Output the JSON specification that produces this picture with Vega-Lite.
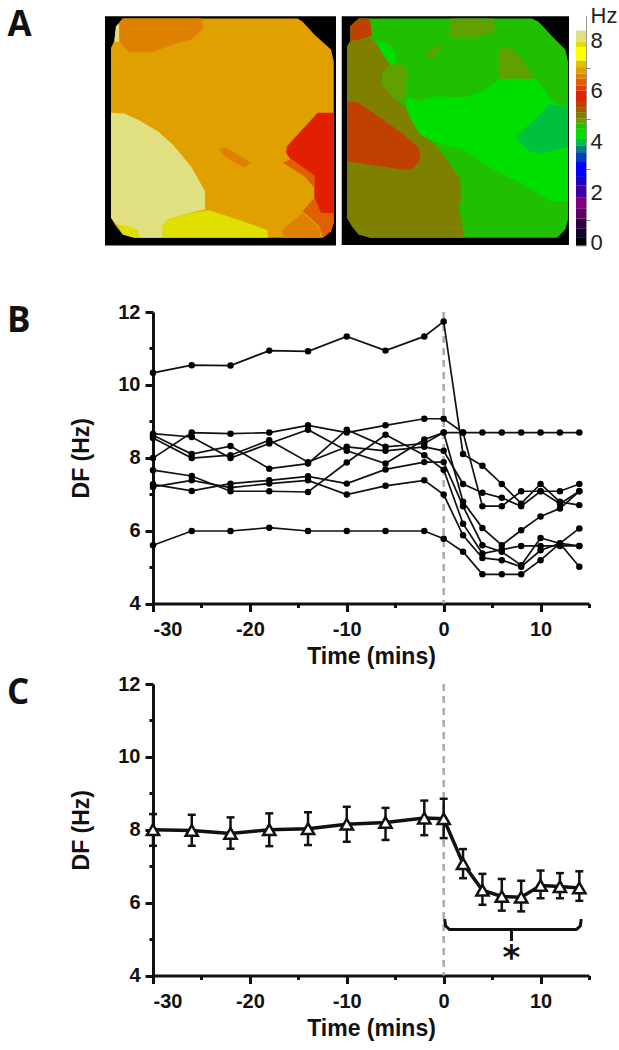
{
"$schema":"https://vega.github.io/schema/vega-lite/v6.json",
"padding":{"left":6,"top":3,"right":0,"bottom":0},
"background":"white",
"config":{"view":{"stroke":null},"font":"Liberation Sans"},
"datasets":{
"series":[
{"s":"a","t":-30,"hz":10.33},{"s":"a","t":-26,"hz":10.54},{"s":"a","t":-22,"hz":10.53},{"s":"a","t":-18,"hz":10.94},{"s":"a","t":-14,"hz":10.92},{"s":"a","t":-10,"hz":11.33},{"s":"a","t":-6,"hz":10.94},{"s":"a","t":-2,"hz":11.33},{"s":"a","t":0,"hz":11.74},{"s":"a","t":2,"hz":8.10},{"s":"a","t":4,"hz":7.78},{"s":"a","t":6,"hz":7.28},{"s":"a","t":8,"hz":6.74},{"s":"a","t":10,"hz":7.28},{"s":"a","t":12,"hz":6.79},{"s":"a","t":14,"hz":6.70},
{"s":"b","t":-30,"hz":5.60},{"s":"b","t":-26,"hz":5.99},{"s":"b","t":-22,"hz":5.99},{"s":"b","t":-18,"hz":6.08},{"s":"b","t":-14,"hz":5.99},{"s":"b","t":-10,"hz":5.99},{"s":"b","t":-6,"hz":5.99},{"s":"b","t":-2,"hz":5.99},{"s":"b","t":0,"hz":5.78},{"s":"b","t":2,"hz":5.42},{"s":"b","t":4,"hz":4.80},{"s":"b","t":6,"hz":4.80},{"s":"b","t":8,"hz":4.80},{"s":"b","t":10,"hz":5.19},{"s":"b","t":12,"hz":5.65},{"s":"b","t":14,"hz":6.06},
{"s":"c","t":-30,"hz":7.99},{"s":"c","t":-26,"hz":8.69},{"s":"c","t":-22,"hz":8.66},{"s":"c","t":-18,"hz":8.69},{"s":"c","t":-14,"hz":8.89},{"s":"c","t":-10,"hz":8.69},{"s":"c","t":-6,"hz":8.89},{"s":"c","t":-2,"hz":9.07},{"s":"c","t":0,"hz":9.07},{"s":"c","t":2,"hz":8.69},{"s":"c","t":4,"hz":6.67},{"s":"c","t":6,"hz":6.67},{"s":"c","t":8,"hz":7.08},{"s":"c","t":10,"hz":7.08},{"s":"c","t":12,"hz":7.08},{"s":"c","t":14,"hz":7.28},
{"s":"d","t":-30,"hz":8.66},{"s":"d","t":-26,"hz":8.57},{"s":"d","t":-22,"hz":7.99},{"s":"d","t":-18,"hz":8.39},{"s":"d","t":-14,"hz":8.77},{"s":"d","t":-10,"hz":8.19},{"s":"d","t":-6,"hz":7.84},{"s":"d","t":-2,"hz":8.50},{"s":"d","t":0,"hz":8.69},{"s":"d","t":2,"hz":8.69},{"s":"d","t":4,"hz":8.69},{"s":"d","t":6,"hz":8.69},{"s":"d","t":8,"hz":8.69},{"s":"d","t":10,"hz":8.69},{"s":"d","t":12,"hz":8.69},{"s":"d","t":14,"hz":8.69},
{"s":"e","t":-30,"hz":8.62},{"s":"e","t":-26,"hz":8.10},{"s":"e","t":-22,"hz":8.32},{"s":"e","t":-18,"hz":7.70},{"s":"e","t":-14,"hz":7.84},{"s":"e","t":-10,"hz":8.77},{"s":"e","t":-6,"hz":8.30},{"s":"e","t":-2,"hz":8.39},{"s":"e","t":0,"hz":8.69},{"s":"e","t":2,"hz":6.79},{"s":"e","t":4,"hz":6.07},{"s":"e","t":6,"hz":5.60},{"s":"e","t":8,"hz":6.01},{"s":"e","t":10,"hz":6.39},{"s":"e","t":12,"hz":6.61},{"s":"e","t":14,"hz":7.08},
{"s":"f","t":-30,"hz":8.54},{"s":"f","t":-26,"hz":7.99},{"s":"f","t":-22,"hz":8.07},{"s":"f","t":-18,"hz":8.48},{"s":"f","t":-14,"hz":7.88},{"s":"f","t":-10,"hz":8.30},{"s":"f","t":-6,"hz":8.19},{"s":"f","t":-2,"hz":8.30},{"s":"f","t":0,"hz":8.19},{"s":"f","t":2,"hz":7.28},{"s":"f","t":4,"hz":7.04},{"s":"f","t":6,"hz":6.90},{"s":"f","t":8,"hz":6.67},{"s":"f","t":10,"hz":7.08},{"s":"f","t":12,"hz":6.74},{"s":"f","t":14,"hz":7.08},
{"s":"g","t":-30,"hz":7.66},{"s":"g","t":-26,"hz":7.50},{"s":"g","t":-22,"hz":7.08},{"s":"g","t":-18,"hz":7.08},{"s":"g","t":-14,"hz":7.06},{"s":"g","t":-10,"hz":7.87},{"s":"g","t":-6,"hz":8.63},{"s":"g","t":-2,"hz":8.07},{"s":"g","t":0,"hz":7.67},{"s":"g","t":2,"hz":6.19},{"s":"g","t":4,"hz":5.37},{"s":"g","t":6,"hz":5.48},{"s":"g","t":8,"hz":5.58},{"s":"g","t":10,"hz":5.58},{"s":"g","t":12,"hz":5.58},{"s":"g","t":14,"hz":5.58},
{"s":"h","t":-30,"hz":7.27},{"s":"h","t":-26,"hz":7.09},{"s":"h","t":-22,"hz":7.29},{"s":"h","t":-18,"hz":7.38},{"s":"h","t":-14,"hz":7.49},{"s":"h","t":-10,"hz":7.29},{"s":"h","t":-6,"hz":7.68},{"s":"h","t":-2,"hz":7.88},{"s":"h","t":0,"hz":7.88},{"s":"h","t":2,"hz":6.67},{"s":"h","t":4,"hz":5.60},{"s":"h","t":6,"hz":5.42},{"s":"h","t":8,"hz":5.05},{"s":"h","t":10,"hz":5.80},{"s":"h","t":12,"hz":5.65},{"s":"h","t":14,"hz":5.01},
{"s":"i","t":-30,"hz":7.20},{"s":"i","t":-26,"hz":7.38},{"s":"i","t":-22,"hz":7.18},{"s":"i","t":-18,"hz":7.29},{"s":"i","t":-14,"hz":7.38},{"s":"i","t":-10,"hz":6.99},{"s":"i","t":-6,"hz":7.23},{"s":"i","t":-2,"hz":7.38},{"s":"i","t":0,"hz":6.99},{"s":"i","t":2,"hz":5.87},{"s":"i","t":4,"hz":5.25},{"s":"i","t":6,"hz":5.19},{"s":"i","t":8,"hz":5.01},{"s":"i","t":10,"hz":5.46},{"s":"i","t":12,"hz":5.65},{"s":"i","t":14,"hz":5.58}
],
"mean":[
{"t":-30,"hz":8.0,"lo":7.56,"hi":8.43},{"t":-26,"hz":7.98,"lo":7.56,"hi":8.41},{"t":-22,"hz":7.9,"lo":7.48,"hi":8.34},{"t":-18,"hz":8.0,"lo":7.55,"hi":8.45},{"t":-14,"hz":8.03,"lo":7.58,"hi":8.48},{"t":-10,"hz":8.15,"lo":7.67,"hi":8.63},{"t":-6,"hz":8.2,"lo":7.72,"hi":8.6},{"t":-2,"hz":8.32,"lo":7.85,"hi":8.8},{"t":0,"hz":8.3,"lo":7.77,"hi":8.85},{"t":2,"hz":7.07,"lo":6.67,"hi":7.47},{"t":4,"hz":6.34,"lo":5.94,"hi":6.79},{"t":6,"hz":6.17,"lo":5.78,"hi":6.65},{"t":8,"hz":6.15,"lo":5.76,"hi":6.6},{"t":10,"hz":6.47,"lo":6.12,"hi":6.88},{"t":12,"hz":6.44,"lo":6.12,"hi":6.81},{"t":14,"hz":6.4,"lo":6.05,"hi":6.86}
],
"bracket":[
{"i":1,"t":0.1,"hz":5.55},{"i":2,"t":0.2,"hz":5.36},{"i":3,"t":0.6,"hz":5.26},{"i":4,"t":7,"hz":5.26},{"i":5,"t":7,"hz":4.95},{"i":6,"t":7,"hz":5.26},{"i":7,"t":13.7,"hz":5.26},{"i":8,"t":14.1,"hz":5.36},{"i":9,"t":14.2,"hz":5.55}
],
"bands":[
{"lo":-0.11,"hi":0.22},{"lo":0.22,"hi":0.55},{"lo":0.55,"hi":0.95},{"lo":0.95,"hi":1.34},{"lo":1.34,"hi":1.8},{"lo":1.8,"hi":2.27},{"lo":2.27,"hi":2.6},{"lo":2.6,"hi":3.19},{"lo":3.19,"hi":3.58},{"lo":3.58,"hi":3.85},{"lo":3.85,"hi":4.1},{"lo":4.1,"hi":4.5},{"lo":4.5,"hi":4.7},{"lo":4.7,"hi":4.9},{"lo":4.9,"hi":5.16},{"lo":5.16,"hi":5.36},{"lo":5.36,"hi":5.56},{"lo":5.56,"hi":6.02},{"lo":6.02,"hi":6.22},{"lo":6.22,"hi":6.48},{"lo":6.48,"hi":6.68},{"lo":6.68,"hi":6.94},{"lo":6.94,"hi":7.2},{"lo":7.2,"hi":7.73},{"lo":7.73,"hi":7.93},{"lo":7.93,"hi":8.39},{"lo":8.39,"hi":8.96}
],
"regions":[
{"type":"Feature","properties":{"hz":0,"name":"bgL"},"geometry":{"type":"Polygon","coordinates":[[[104,16.7],[335,16.7],[335,246],[104,246],[104,16.7]]]}},
{"type":"Feature","properties":{"hz":0,"name":"bgR"},"geometry":{"type":"Polygon","coordinates":[[[340.7,16.7],[568,16.7],[568,245.5],[340.7,245.5],[340.7,16.7]]]}},
{"type":"Feature","properties":{"hz":6.8,"name":"L main"},"geometry":{"type":"Polygon","coordinates":[[[121.7,19],[296.7,19],[301.7,22.3],[313.3,35],[330,50],[332.7,61.7],[332.7,223.3],[330,231.7],[321.7,238.3],[133.3,238.3],[121.7,235],[115,226.7],[110,218.3],[110,48.3],[113.3,41.7],[115,26.7],[121.7,19]]]}},
{"type":"Feature","properties":{"hz":8.2,"name":"L sliver"},"geometry":{"type":"Polygon","coordinates":[[[115,26.7],[118.3,24],[118.3,42.3],[113.3,42.3],[115,26.7]]]}},
{"type":"Feature","properties":{"hz":6.6,"name":"L top"},"geometry":{"type":"Polygon","coordinates":[[[121.7,19],[201.7,19],[201.7,30],[190,40],[171.7,45],[151.7,52.7],[128.3,52.7],[118.3,42.3],[118.3,24],[121.7,19]]]}},
{"type":"Feature","properties":{"hz":8.2,"name":"L cream"},"geometry":{"type":"Polygon","coordinates":[[[110,113.3],[123.3,114],[136.7,120],[156.7,131.7],[171.7,145],[190,166.7],[204,191.7],[204,210],[186.7,214],[166.7,220],[161.7,226.7],[161.7,238.3],[138.3,238.3],[136.7,231.7],[126.7,226.7],[115,225],[110,218.3],[110,113.3]]]}},
{"type":"Feature","properties":{"hz":7.8,"name":"L yellow"},"geometry":{"type":"Polygon","coordinates":[[[161.7,238.3],[161.7,226.7],[166.7,220],[186.7,214],[208.3,210.7],[236.7,220],[266.7,230.7],[266.7,238.3],[161.7,238.3]]]}},
{"type":"Feature","properties":{"hz":7.8,"name":"L yellow 2"},"geometry":{"type":"Polygon","coordinates":[[[116,225],[128.3,226.7],[137.3,232.7],[138.3,238.3],[133.3,238.3],[121.7,235],[116,225]]]}},
{"type":"Feature","properties":{"hz":5.8,"name":"L red"},"geometry":{"type":"Polygon","coordinates":[[[332.7,113.3],[316.7,113.3],[286,146.7],[285,153.3],[291.7,162.7],[313.3,176.7],[313.3,198.3],[320,214],[332.7,214],[332.7,113.3]]]}},
{"type":"Feature","properties":{"hz":6.3,"name":"L strip"},"geometry":{"type":"Polygon","coordinates":[[[281.7,163.3],[290,159.3],[313.3,176],[313.3,188.3],[303.3,176.7],[281.7,163.3]]]}},
{"type":"Feature","properties":{"hz":6.3,"name":"L corner"},"geometry":{"type":"Polygon","coordinates":[[[301.7,211.7],[313.3,198.3],[320,214],[332.7,214],[332.7,223.3],[330,231.7],[321.7,238.3],[318.3,226.7],[301.7,211.7]]]}},
{"type":"Feature","properties":{"hz":6.6,"name":"L corner 2"},"geometry":{"type":"Polygon","coordinates":[[[281.7,230],[301.7,213.3],[319.3,230],[319.3,238.3],[281.7,238.3],[281.7,230]]]}},
{"type":"Feature","properties":{"hz":6.6,"name":"L blob"},"geometry":{"type":"Polygon","coordinates":[[[218.3,150],[225,147.7],[250,163.3],[243.3,167.7],[233.3,163.3],[221.7,155],[218.3,150]]]}},
{"type":"Feature","properties":{"hz":4.6,"name":"R main"},"geometry":{"type":"Polygon","coordinates":[[[357.7,19],[531,19],[537.7,22.3],[549.3,35],[564.3,50],[567,61.7],[567,220],[564.3,230],[556,238.3],[369.3,238.3],[357.7,235],[351,226.7],[346,218.3],[346,47.3],[349.3,41.7],[349.3,26.7],[357.7,19]]]}},
{"type":"Feature","properties":{"hz":5.45,"name":"R top left"},"geometry":{"type":"Polygon","coordinates":[[[357.7,19],[368.7,19],[371,36],[361,40],[349.3,41.7],[349.3,26.7],[357.7,19]]]}},
{"type":"Feature","properties":{"hz":5.0,"name":"R olive"},"geometry":{"type":"Polygon","coordinates":[[[346,47.3],[349.3,41.7],[361,40],[371,38.3],[389.3,65],[381,73.3],[381,85],[394.3,100],[404.3,106.7],[411,121.7],[419.3,135],[431,141.7],[446,160],[459.3,180],[460,200],[457.7,206.7],[463.3,238.3],[369.3,238.3],[357.7,235],[351,226.7],[346,218.3],[346,47.3]]]}},
{"type":"Feature","properties":{"hz":5.45,"name":"R rust"},"geometry":{"type":"Polygon","coordinates":[[[346,101.7],[357.7,103.3],[379.3,118.3],[402.7,135],[417.7,148.3],[419.3,160],[411,170],[401,170],[374.3,166],[356,163.3],[346,161.7],[346,101.7]]]}},
{"type":"Feature","properties":{"hz":4.8,"name":"R blob"},"geometry":{"type":"Polygon","coordinates":[[[381,73.3],[389.3,65],[401,65],[406,73.3],[404.3,95],[401,101.7],[394.3,100],[381,85],[381,73.3]]]}},
{"type":"Feature","properties":{"hz":4.3,"name":"R small"},"geometry":{"type":"Polygon","coordinates":[[[375.3,41.7],[384.3,42.7],[394.3,51.7],[396,63.3],[389.3,65],[381,53.3],[375.3,41.7]]]}},
{"type":"Feature","properties":{"hz":4.8,"name":"R top"},"geometry":{"type":"Polygon","coordinates":[[[449.3,19],[493.3,19],[493.3,34],[469.3,38.3],[449.3,38.3],[449.3,19]]]}},
{"type":"Feature","properties":{"hz":4.8,"name":"R dot"},"geometry":{"type":"Polygon","coordinates":[[[423.7,55],[437.7,45],[440,48.3],[431,59.3],[423.7,55]]]}},
{"type":"Feature","properties":{"hz":4.8,"name":"R right"},"geometry":{"type":"Polygon","coordinates":[[[497.7,50],[507.7,47.3],[517.7,55],[534.3,79.3],[497.7,79.3],[497.7,50]]]}},
{"type":"Feature","properties":{"hz":4.3,"name":"R bright"},"geometry":{"type":"Polygon","coordinates":[[[404.3,106.7],[407.7,97.3],[416,101.7],[436,96.7],[462.7,98.3],[482.7,91.7],[499.3,79.3],[534.3,79.3],[541,86.7],[552.7,103.3],[567,106.7],[567,201.7],[549.3,201.7],[522.7,185],[492.7,170],[462.7,150],[431,141.7],[419.3,135],[411,121.7],[404.3,106.7]]]}},
{"type":"Feature","properties":{"hz":3.95,"name":"R teal"},"geometry":{"type":"Polygon","coordinates":[[[547.7,104.3],[567,106.7],[567,147.3],[542.7,153.3],[529.3,152.7],[514.3,138.3],[526,126.7],[541,113.3],[547.7,104.3]]]}}
]
},
"vconcat":[
{"hconcat":[
 {"width":416,"height":281,
  "layer":[
   {"data":{"name":"regions"},"projection":{"type":"identity","scale":1,"translate":[-152,-16.5]},"mark":{"type":"geoshape","strokeWidth":0,"stroke":null,"clip":false},
    "encoding":{"color":{"field":"properties.hz","type":"quantitative","legend":null,
     "scale":{"type":"threshold","domain":[0.22,0.55,0.95,1.34,1.8,2.27,2.6,3.19,3.58,3.85,4.1,4.5,4.7,4.9,5.16,5.36,5.56,6.02,6.22,6.48,6.68,6.94,7.2,7.73,7.93,8.39],
     "range":["#000000","#100030","#300040","#600060","#800080","#4000A0","#2000C0","#0000FF","#0040C0","#008080","#00C040","#00E000","#20C000","#60A000","#808000","#A06000","#C04000","#E02000","#E04000","#E06000","#E08000","#E0A000","#E0C000","#FFFF00","#E0E000","#E0E080","#FFFFFF"]}}}},
   {"data":{"values":[{"label":"A","px":6.5,"py":25}]},"mark":{"type":"text","align":"left","baseline":"middle","font":"Open Sans","fontWeight":"bold","fontSize":35,"color":"#111111"},
    "encoding":{"x":{"field":"px","type":"quantitative","axis":null,"scale":{"domain":[152,568],"nice":false,"zero":false}},"y":{"field":"py","type":"quantitative","axis":null,"scale":{"domain":[297.5,16.5],"nice":false,"zero":false}},"text":{"field":"label"}}}
  ]},
 {"width":10,"height":229.5,
  "view":{"stroke":"#999999","strokeWidth":1},
  "data":{"name":"bands"},
  "mark":{"type":"rect"},
  "encoding":{
   "y":{"field":"lo","type":"quantitative","scale":{"domain":[-0.11,8.96],"nice":false,"zero":false},
    "axis":{"orient":"right","values":[0,0.91,2,2.9,4,4.9,6,6.9,8],"labelExpr":"datum.value % 2 == 0 ? datum.label : ''","domain":false,"grid":false,"tickColor":"#888888","tickWidth":1,"tickSize":{"condition":{"test":"datum.value % 2 == 0","value":0},"value":4},"labelPadding":4,"labelFontSize":22,"labelFont":"Liberation Sans","labelColor":"#222222","labelFlush":false,"labelOverlap":false,"title":"Hz","titleFont":"Liberation Sans","titleFontSize":22,"titleFontWeight":"normal","titleColor":"#222222","titleAngle":0,"titleAlign":"left","titleBaseline":"middle","titleX":4,"titleY":-1}},
   "y2":{"field":"hi"},
   "color":{"field":"lo","type":"quantitative","legend":null,
    "scale":{"type":"threshold","domain":[0.22,0.55,0.95,1.34,1.8,2.27,2.6,3.19,3.58,3.85,4.1,4.5,4.7,4.9,5.16,5.36,5.56,6.02,6.22,6.48,6.68,6.94,7.2,7.73,7.93,8.39],
    "range":["#000000","#100030","#300040","#600060","#800080","#4000A0","#2000C0","#0000FF","#0040C0","#008080","#00C040","#00E000","#20C000","#60A000","#808000","#A06000","#C04000","#E02000","#E04000","#E06000","#E08000","#E0A000","#E0C000","#FFFF00","#E0E000","#E0E080","#FFFFFF"]}}
  }}
 ],"spacing":6},
{"width":436,"height":291.5,
 "encoding":{
  "x":{"type":"quantitative","scale":{"domain":[-30,15],"nice":false,"zero":false},
   "axis":{"title":"Time (mins)","values":[-30,-25,-20,-15,-10,-5,0,5,10,15],"labelExpr":"datum.value % 10 == 0 ? toString(datum.value) : ''","grid":false,"domainWidth":3,"domainColor":"#111111","tickColor":"#111111","tickWidth":3,"tickSize":{"condition":{"test":"datum.value % 10 == 0","value":8},"value":4},"labelFont":"Liberation Sans","labelFontSize":20,"labelFontWeight":"bold","labelColor":"#111111","labelPadding":8,"labelOverlap":false,"titleFont":"Liberation Sans","titleFontSize":23,"titleFontWeight":"bold","titleColor":"#111111","titlePadding":6}},
  "y":{"type":"quantitative","scale":{"domain":[4,12],"nice":false,"zero":false},
   "axis":{"title":"DF (Hz)","values":[4,5,6,7,8,9,10,11,12],"labelExpr":"datum.value % 2 == 0 ? datum.label : ''","grid":false,"domainWidth":3,"domainColor":"#111111","tickColor":"#111111","tickWidth":3,"tickSize":{"condition":{"test":"datum.value % 2 == 0","value":8},"value":4},"labelFont":"Liberation Sans","labelFontSize":20,"labelFontWeight":"bold","labelColor":"#111111","labelPadding":5,"labelOverlap":false,"titleFont":"Liberation Sans","titleFontSize":23,"titleFontWeight":"bold","titleColor":"#111111","titlePadding":24}}
 },
 "layer":[
  {"mark":{"type":"rule","color":"#aaaaaa","strokeWidth":2.5,"strokeDash":[7,5]},"data":{"values":[{"t":0}]},"encoding":{"x":{"field":"t","type":"quantitative"}}},
  {"data":{"name":"series"},"mark":{"type":"line","color":"#111111","strokeWidth":1.7},"encoding":{"x":{"field":"t"},"y":{"field":"hz"},"detail":{"field":"s"}}},
  {"data":{"name":"series"},"mark":{"type":"point","filled":true,"color":"#000000","size":42,"opacity":1},"encoding":{"x":{"field":"t"},"y":{"field":"hz"}}},
  {"data":{"values":[{"label":"B","px":-45.07,"py":11.74}]},"mark":{"type":"text","align":"left","baseline":"middle","font":"Open Sans","fontWeight":"bold","fontSize":35,"color":"#111111"},"encoding":{"x":{"field":"px"},"y":{"field":"py"},"text":{"field":"label"}}}
 ]},
{"width":436,"height":291.5,
 "encoding":{
  "x":{"type":"quantitative","scale":{"domain":[-30,15],"nice":false,"zero":false},
   "axis":{"title":"Time (mins)","values":[-30,-25,-20,-15,-10,-5,0,5,10,15],"labelExpr":"datum.value % 10 == 0 ? toString(datum.value) : ''","grid":false,"domainWidth":3,"domainColor":"#111111","tickColor":"#111111","tickWidth":3,"tickSize":{"condition":{"test":"datum.value % 10 == 0","value":8},"value":4},"labelFont":"Liberation Sans","labelFontSize":20,"labelFontWeight":"bold","labelColor":"#111111","labelPadding":8,"labelOverlap":false,"titleFont":"Liberation Sans","titleFontSize":23,"titleFontWeight":"bold","titleColor":"#111111","titlePadding":6}},
  "y":{"type":"quantitative","scale":{"domain":[4,12],"nice":false,"zero":false},
   "axis":{"title":"DF (Hz)","values":[4,5,6,7,8,9,10,11,12],"labelExpr":"datum.value % 2 == 0 ? datum.label : ''","grid":false,"domainWidth":3,"domainColor":"#111111","tickColor":"#111111","tickWidth":3,"tickSize":{"condition":{"test":"datum.value % 2 == 0","value":8},"value":4},"labelFont":"Liberation Sans","labelFontSize":20,"labelFontWeight":"bold","labelColor":"#111111","labelPadding":5,"labelOverlap":false,"titleFont":"Liberation Sans","titleFontSize":23,"titleFontWeight":"bold","titleColor":"#111111","titlePadding":24}}
 },
 "layer":[
  {"mark":{"type":"rule","color":"#aaaaaa","strokeWidth":2.5,"strokeDash":[7,5]},"data":{"values":[{"t":0}]},"encoding":{"x":{"field":"t","type":"quantitative"}}},
  {"data":{"name":"mean"},"mark":{"type":"rule","color":"#111111","strokeWidth":2.5},"encoding":{"x":{"field":"t"},"y":{"field":"lo"},"y2":{"field":"hi"}}},
  {"data":{"name":"mean"},"mark":{"type":"tick","orient":"horizontal","color":"#111111","size":8,"thickness":2.5,"opacity":1},"encoding":{"x":{"field":"t"},"y":{"field":"lo"}}},
  {"data":{"name":"mean"},"mark":{"type":"tick","orient":"horizontal","color":"#111111","size":8,"thickness":2.5,"opacity":1},"encoding":{"x":{"field":"t"},"y":{"field":"hi"}}},
  {"data":{"name":"mean"},"mark":{"type":"line","color":"#111111","strokeWidth":3.5},"encoding":{"x":{"field":"t"},"y":{"field":"hz"}}},
  {"data":{"name":"mean"},"mark":{"type":"point","shape":"triangle-up","filled":true,"fill":"#ffffff","stroke":"#111111","strokeWidth":2.5,"size":150,"opacity":1},"encoding":{"x":{"field":"t"},"y":{"field":"hz"}}},
  {"data":{"name":"bracket"},"mark":{"type":"line","color":"#111111","strokeWidth":3},"encoding":{"x":{"field":"t"},"y":{"field":"hz"},"order":{"field":"i"}}},
  {"data":{"values":[{"label":"*","t":7,"hz":4.58}]},"mark":{"type":"text","align":"center","baseline":"middle","font":"DejaVu Sans","fontWeight":"bold","fontSize":34,"dy":5,"color":"#111111"},"encoding":{"x":{"field":"t"},"y":{"field":"hz"},"text":{"field":"label"}}},
  {"data":{"values":[{"label":"C","px":-45.07,"py":11.75}]},"mark":{"type":"text","align":"left","baseline":"middle","font":"Open Sans","fontWeight":"bold","fontSize":35,"color":"#111111"},"encoding":{"x":{"field":"px"},"y":{"field":"py"},"text":{"field":"label"}}}
 ]}
],
"spacing":5,
"align":"none"
}
